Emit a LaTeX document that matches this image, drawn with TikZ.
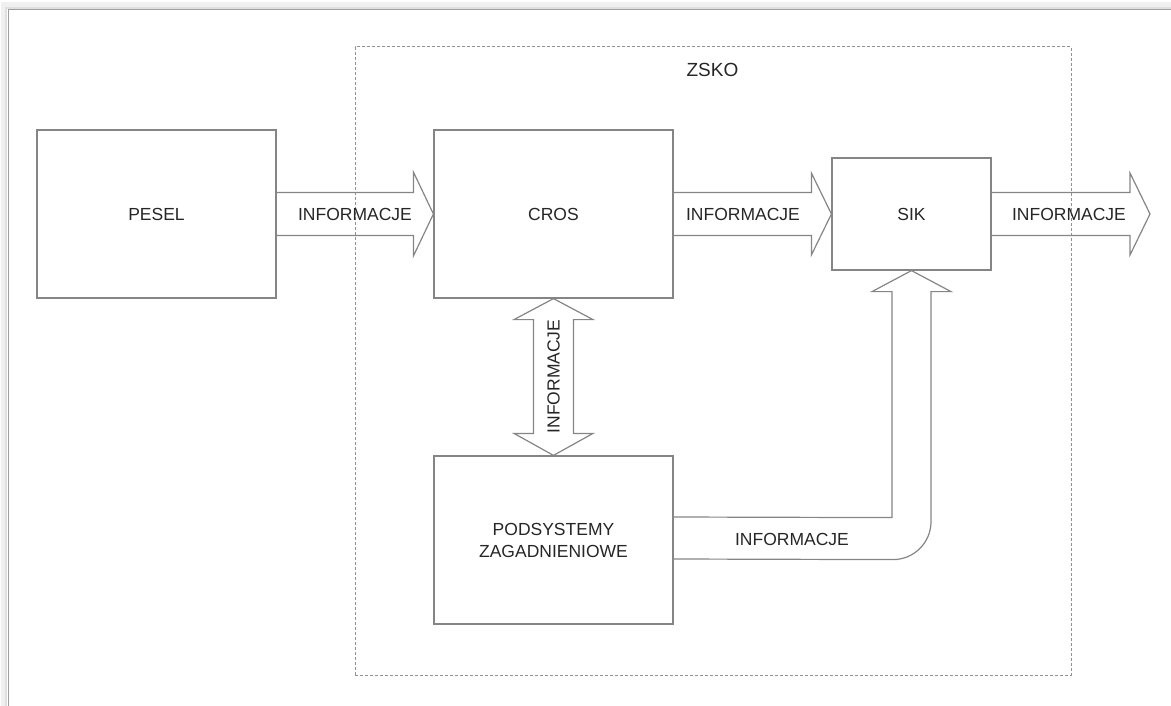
\documentclass[tikz,border=0pt]{standalone}
\usepackage{fontspec}
\setmainfont{Liberation Sans}
\usetikzlibrary{calc}
\definecolor{linegray}{HTML}{858585}
\definecolor{txtgray}{HTML}{262626}
\begin{document}
\begin{tikzpicture}[x=1pt,y=-1pt,
  box/.style={draw=linegray,line width=1.2pt,fill=white,rectangle,inner sep=0pt,
     font=\fontsize{17.5}{21}\selectfont,text=txtgray,align=center},
  fat/.style={draw=linegray,line width=1.2pt,line join=miter},
  lbl/.style={font=\fontsize{17.5}{21}\selectfont,text=txtgray,inner sep=0pt}]
\useasboundingbox (0,0) rectangle (1171,706);
% outer frame with shadow
\draw[gray!12,line width=5pt] (3,706) -- (3,5) -- (1171,5);
\draw[gray!25,line width=2pt] (6,706) -- (6,8) -- (1171,8);
\draw[gray!75,line width=1pt] (8,706) -- (8,10) -- (1171,10);
% ZSKO dashed frame
\node[draw=linegray!90,line width=1pt,dash pattern=on 3pt off 2pt,rectangle,inner sep=0pt,
      minimum width=716pt,minimum height=628pt] (zsko) at (713,361) {};
\node[lbl,font=\fontsize{19}{22}\selectfont] (zskot) at (712.5,70) {ZSKO};
% boxes
\node[box,minimum width=239pt,minimum height=168pt] (pesel) at (156.5,214) {PESEL};
\node[box,minimum width=239pt,minimum height=168pt] (cros) at (553.5,214) {CROS};
\node[box,minimum width=159pt,minimum height=112pt] (sik) at (911.5,214) {SIK};
\node[box,minimum width=239pt,minimum height=168pt] (pod) at (553.5,540) {PODSYSTEMY\\[1pt]ZAGADNIENIOWE};
\coordinate (out) at (1150,214);
% arrow PESEL -> CROS
\draw[fat] ($(pesel.east)+(0,-21.5)$) -- ($(cros.west)+(-20,-21.5)$) -- ($(cros.west)+(-20,-42)$)
   -- (cros.west) -- ($(cros.west)+(-20,42)$) -- ($(cros.west)+(-20,21.5)$) -- ($(pesel.east)+(0,21.5)$);
\node[lbl] (l1) at (355,214) {INFORMACJE};
% arrow CROS -> SIK
\draw[fat] ($(cros.east)+(0,-21.5)$) -- ($(sik.west)+(-20,-21.5)$) -- ($(sik.west)+(-20,-41)$)
   -- (sik.west) -- ($(sik.west)+(-20,41)$) -- ($(sik.west)+(-20,21.5)$) -- ($(cros.east)+(0,21.5)$);
\node[lbl] (l2) at (743,214) {INFORMACJE};
% arrow SIK -> out
\draw[fat] ($(sik.east)+(0,-21.5)$) -- ($(out)+(-20,-21.5)$) -- ($(out)+(-20,-41)$)
   -- (out) -- ($(out)+(-20,41)$) -- ($(out)+(-20,21.5)$) -- ($(sik.east)+(0,21.5)$);
\node[lbl] (l3) at (1069,214) {INFORMACJE};
% double arrow CROS <-> PODSYSTEMY
\draw[fat] (cros.south) -- ($(cros.south)+(39.5,21)$) -- ($(cros.south)+(20,21)$)
   -- ($(pod.north)+(20,-22)$) -- ($(pod.north)+(39.5,-22)$) -- (pod.north)
   -- ($(pod.north)+(-39.5,-22)$) -- ($(pod.north)+(-20,-22)$) -- ($(cros.south)+(-20,21)$)
   -- ($(cros.south)+(-39.5,21)$) -- cycle;
\node[lbl,rotate=90] (l4) at (553.5,376.5) {INFORMACJE};
% bent arrow PODSYSTEMY -> SIK
\draw[fat] ($(pod.east)+(0,-23)$) -- ($(sik.south)+(-19.5,247)$) -- ($(sik.south)+(-19.5,21)$)
   -- ($(sik.south)+(-39.5,21)$) -- (sik.south) -- ($(sik.south)+(39.5,21)$)
   -- ($(sik.south)+(19.5,21)$) -- ($(sik.south)+(19.5,251)$)
   arc[start angle=0,end angle=90,radius=38] -- ($(pod.east)+(0,19)$);
\node[lbl] (l5) at (792,539) {INFORMACJE};
\end{tikzpicture}
\end{document}
